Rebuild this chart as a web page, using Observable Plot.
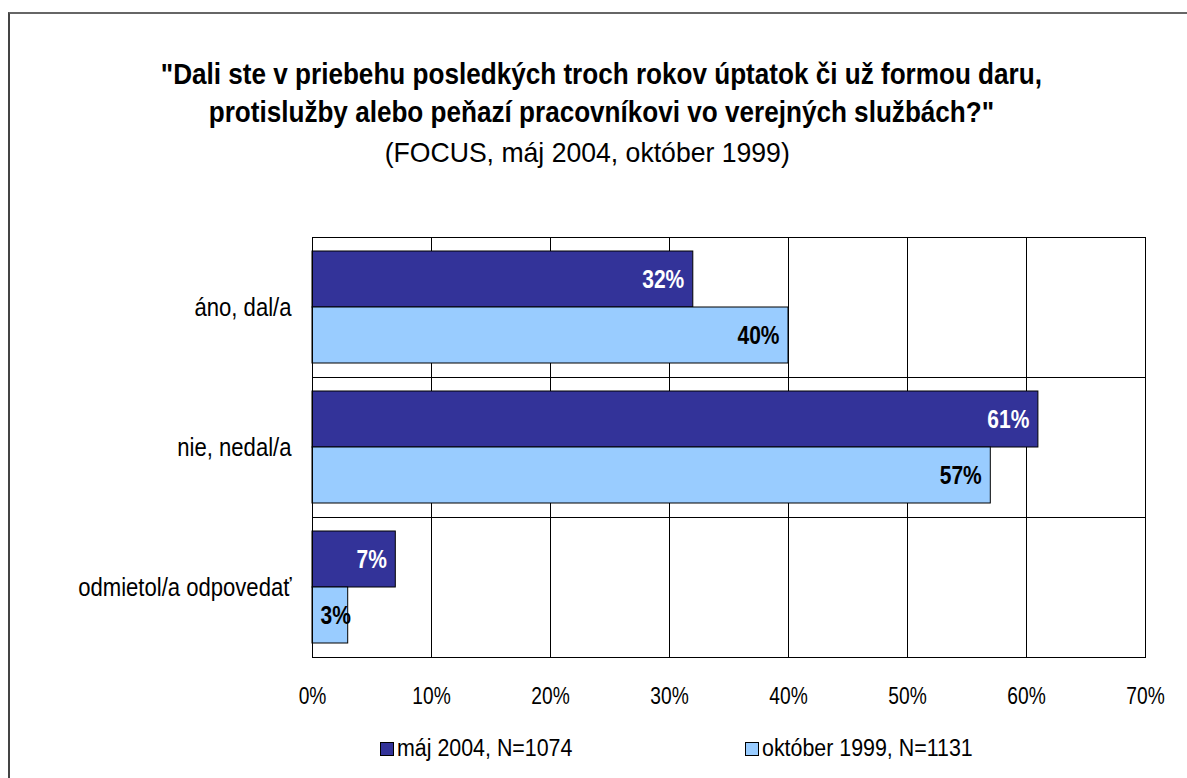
<!DOCTYPE html>
<html>
<head>
<meta charset="utf-8">
<script src="https://cdn.jsdelivr.net/npm/d3@7"></script>
<script src="https://cdn.jsdelivr.net/npm/@observablehq/plot@0.6"></script>
<style>
  html, body { margin: 0; padding: 0; background: #fff; }
  body { width: 1187px; height: 778px; position: relative; overflow: hidden;
         font-family: "Liberation Sans", Arial, sans-serif; color: #000; }
  #border { position: absolute; left: 8px; top: 12px; width: 1300px; height: 900px;
            border-left: 2px solid #444; border-top: 2px solid #666; }
  .line { position: absolute; left: 0; width: 1202px; text-align: center; white-space: nowrap; }
  .line span { display: inline-block; transform-origin: 50% 50%; }
  .t { font-weight: bold; font-size: 30px; line-height: 36px; }
  .t span { transform: scaleX(0.87); }
  .s { font-size: 28px; line-height: 32px; width: 1175px; }
  .s span { transform: scaleX(0.95); }
  #chart { position: absolute; left: 0; top: 200px; }
  #legend { position: absolute; top: 735px; left: 0; width: 1187px; font-size: 23px; }
  .item { position: absolute; display: flex; align-items: center; white-space: nowrap; }
  .sw { width: 12px; height: 12px; border: 1px solid #000; margin-right: 3px; flex: none; }
  .lbl { display: inline-block; transform: scaleX(0.93); transform-origin: 0 50%; }
</style>
</head>
<body>
<div id="border"></div>
<div id="titles"></div>
<div id="chart"></div>
<div id="legend"></div>
<script>
const titleLines = ["\"Dali ste v priebehu posledkých troch rokov úptatok či už formou daru,", "protislužby alebo peňazí pracovníkovi vo verejných službách?\""];
const subtitle = "(FOCUS, máj 2004, október 1999)";
const categories = ["áno, dal/a", "nie, nedal/a", "odmietol/a odpovedať"];
const seriesNames = ["máj 2004, N=1074", "október 1999, N=1131"];
const may2004 = [32, 61, 7];
const oct1999 = [40, 57, 3];
const xTicks = [0, 10, 20, 30, 40, 50, 60, 70];
const colors = ["#333399", "#99CCFF"];
const legendLeft = [380, 745];

const titles = document.getElementById("titles");
const titleTops = [56, 94];
titleLines.forEach((t, i) => {
  const d = document.createElement("div");
  d.className = "line t";
  d.style.top = titleTops[i] + "px";
  const s = document.createElement("span");
  s.textContent = t;
  d.appendChild(s);
  titles.appendChild(d);
});
{
  const d = document.createElement("div");
  d.className = "line s";
  d.style.top = "137px";
  const s = document.createElement("span");
  s.textContent = subtitle;
  d.appendChild(s);
  titles.appendChild(d);
}

const data = categories.flatMap((c, i) => [
  {cat: c, series: seriesNames[0], value: may2004[i]},
  {cat: c, series: seriesNames[1], value: oct1999[i]}
]);
const FONT = '"Liberation Sans", Arial, sans-serif';
const common = {fy: "cat", y: "series", x: "value", text: d => d.value + "%", fontWeight: "bold", fontSize: 25};

const chart = Plot.plot({
  width: 1187, height: 520,
  marginLeft: 312, marginRight: 42, marginTop: 37, marginBottom: 63,
  style: {fontFamily: FONT, fontSize: "24px", color: "#000", background: "transparent", overflow: "visible"},
  x: {domain: [0, 70], label: null},
  y: {domain: seriesNames, paddingInner: 0, paddingOuter: 0.24, axis: null},
  fy: {domain: categories, padding: 0, label: null},
  color: {domain: seriesNames, range: colors},
  marks: [
    Plot.ruleX(xTicks.slice(1, -1), {stroke: "#000", strokeWidth: 1}),
    Plot.barX(data, {fy: "cat", y: "series", x: "value", fill: "series", stroke: "#000", strokeWidth: 1}),
    Plot.text(data.filter(d => d.series === seriesNames[0] && d.value >= 5), {...common, textAnchor: "end", dx: -9, fill: "#fff"}),
    Plot.text(data.filter(d => d.series === seriesNames[1] && d.value >= 5), {...common, textAnchor: "end", dx: -9, fill: "#000"}),
    Plot.text(data.filter(d => d.value < 5), {...common, x: () => 0, textAnchor: "start", dx: 8, fill: "#000"}),
    Plot.frame({stroke: "#000", strokeWidth: 1}),
    Plot.axisX(xTicks, {tickFormat: d => d + "%", tickSize: 0, tickPadding: 29, fontSize: 24, label: null}),
    Plot.axisFy({tickSize: 0, tickPadding: 21, fontSize: 26, label: null, anchor: "left"})
  ]
});
document.getElementById("chart").appendChild(chart);

// Condense the glyphs horizontally (mimic a narrow face) around each text's anchor point
chart.querySelectorAll("text").forEach(t => {
  let g = t.parentNode, key = "text";
  while (g && g !== chart) {
    const a = g.getAttribute && g.getAttribute("aria-label");
    if (a && a.startsWith("fy-axis")) { key = "fy"; break; }
    if (a && a.startsWith("x-axis")) { key = "x"; break; }
    g = g.parentNode;
  }
  const s = key === "fy" ? 0.85 : key === "x" ? 0.8 : 0.84;
  const tr = t.getAttribute("transform");
  if (tr) t.setAttribute("transform", tr + ` scale(${s},1)`);
  else {
    const x = +t.getAttribute("x") || 0, y = +t.getAttribute("y") || 0;
    t.setAttribute("transform", `translate(${x},${y}) scale(${s},1) translate(${-x},${-y})`);
  }
});

const legend = document.getElementById("legend");
seriesNames.forEach((s, i) => {
  const item = document.createElement("div");
  item.className = "item";
  item.style.left = legendLeft[i] + "px";
  item.innerHTML = `<span class="sw" style="background:${colors[i]}"></span><span class="lbl">${s}</span>`;
  legend.appendChild(item);
});
</script>
</body>
</html>
